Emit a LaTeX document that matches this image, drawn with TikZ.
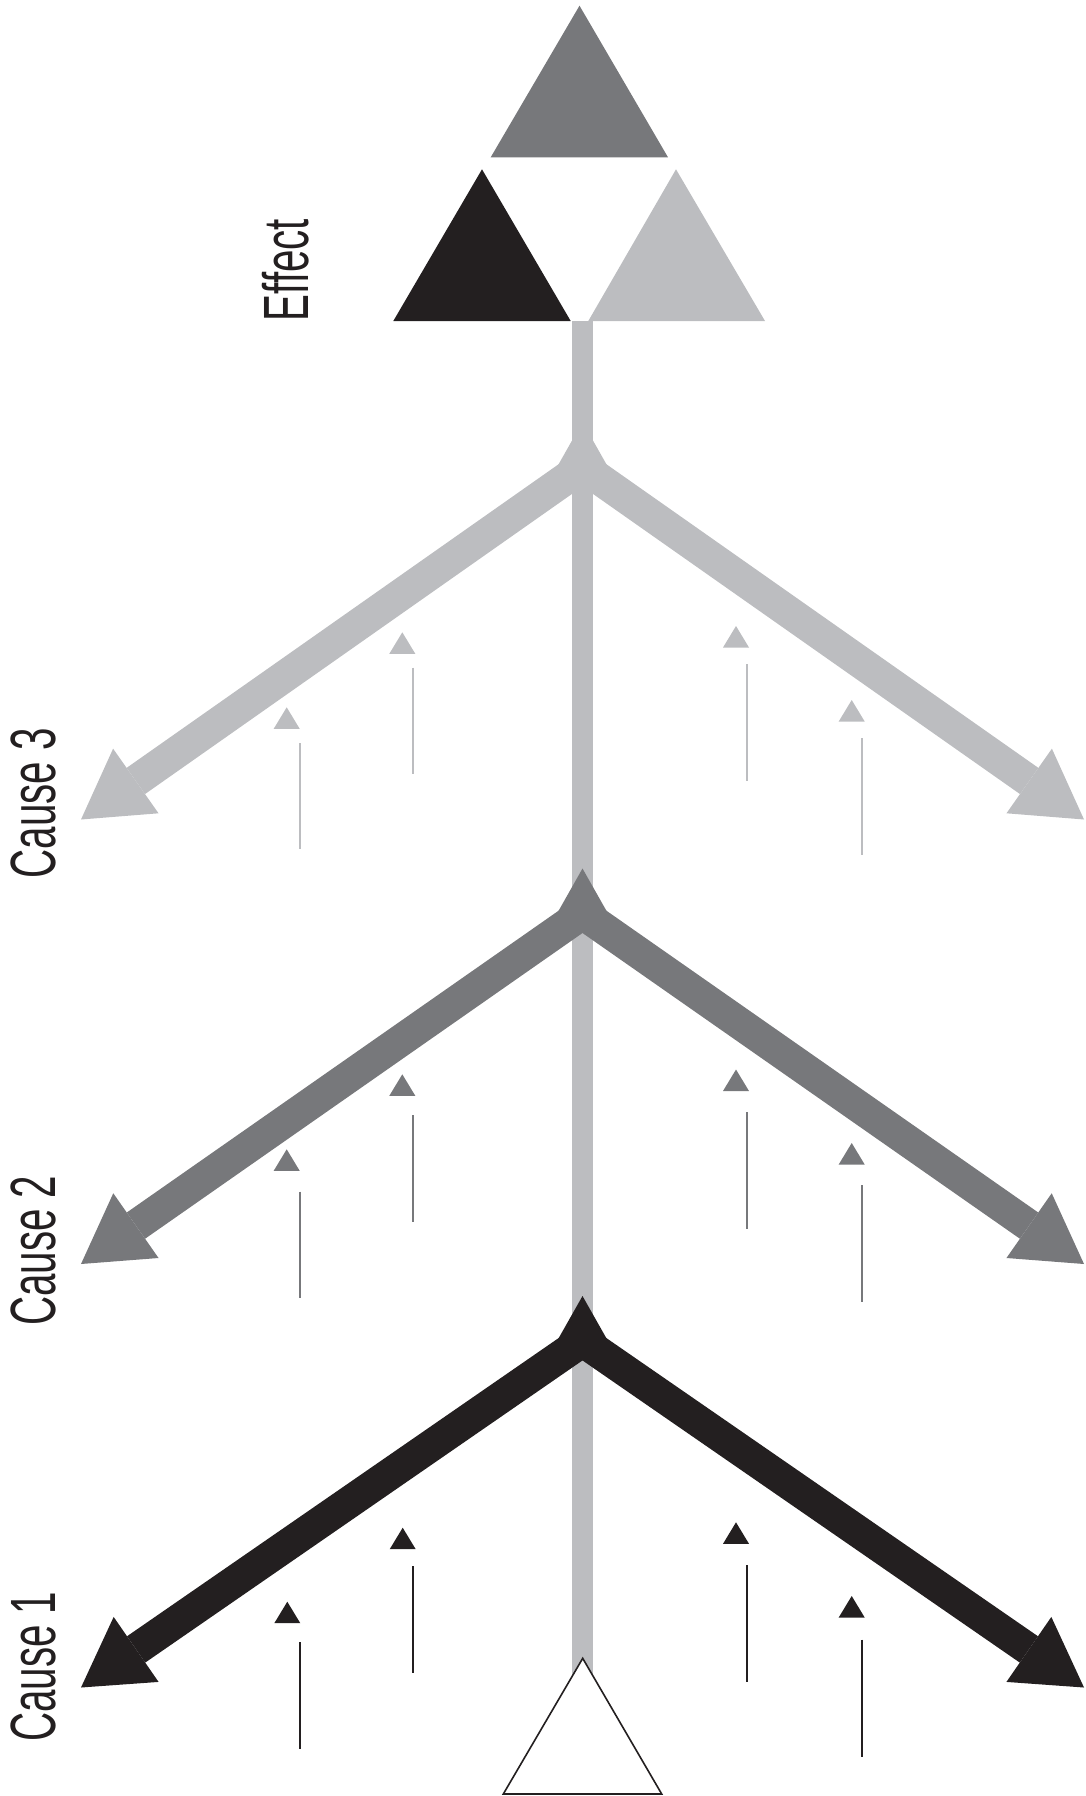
\documentclass[tikz,border=0pt]{standalone}
\usepackage{fontspec}
\usepackage{tikz}
\usetikzlibrary{arrows.meta}
\newfontfamily\labelfont[FakeStretch=0.63]{Liberation Sans}
\definecolor{causeblack}{HTML}{231F20}
\definecolor{causedark}{HTML}{77787B}
\definecolor{causelight}{HTML}{BCBDC0}

\begin{document}
\begin{tikzpicture}[x=1pt,y=-1pt,
        chev/.style={line width=32pt,line join=miter,>={Triangle[length=67pt,width=79pt,line width=0pt]},<->},
        tick/.style={line width=2.2pt},
        lbl/.style={rotate=90,anchor=base west,inner sep=0pt,text=causeblack,font=\labelfont\fontsize{64}{64}\selectfont}]
        \useasboundingbox (0,0) rectangle (1085,1796);
        % trunk
        \coordinate (top) at (582.5,321);
        \coordinate (root) at (582.5,1690);
        \draw[causelight,line width=20.7pt] (top) -- (root);
        % causes
        \foreach \c/\vy/\ey/\col in {3/467/819.5/causelight,2/913.5/1264/causedark,1/1341/1687.5/causeblack} {
            \coordinate (v\c) at (582.5,\vy);
            \coordinate (l\c) at (81,\ey);
            \coordinate (r\c) at (1084,\ey);
            \draw[chev,\col] (l\c) -- (v\c) -- (r\c);
            \fill[\col] (v\c) ++(0,-45) -- ++(-30,53) -- ++(60,0) -- cycle;
        }
        % small arrows
        \foreach \tx/\ty/\lx/\la/\lb/\col in {
            286.7/707.3/300/743.3/849.3/causelight, 402.3/632.3/412.7/667.7/774/causelight,
            736/626/747/664/781/causelight, 851.7/700/862.3/738.3/855.3/causelight,
            286.7/1149.3/300/1191.7/1297.7/causedark, 402.3/1074.3/412.7/1115.3/1222/causedark,
            736/1069.5/747/1112/1229/causedark, 851.7/1143/862.3/1185/1302/causedark,
            287.3/1601.7/300/1642.3/1748.7/causeblack, 402.7/1527.7/412.7/1566/1672.7/causeblack,
            736/1522.3/747/1565.3/1682/causeblack, 851.7/1596/862.3/1639.7/1756.7/causeblack} {
            \fill[\col] (\tx,\ty) -- ++(13,21.5) -- ++(-26,0) -- cycle;
            \draw[tick,\col] (\lx,\la) -- (\lx,\lb);
        }
        % effect
        \fill[causedark]  (579.5,5.7) -- (668,157.3) -- (490.7,157.3) -- cycle;
        \fill[causeblack] (482,169.3) -- (570.7,321) -- (393.3,321) -- cycle;
        \fill[causelight] (676,169.3) -- (765,321) -- (588.3,321) -- cycle;
        % start
        \draw[causeblack,fill=white,line width=1.6pt,line join=miter] (582.7,1658.3) -- (661.7,1794) -- (503.3,1794) -- cycle;
        % labels
        \node[lbl] (effect) at (308,321.5) {Effect};
        \node[lbl] (cause3) at (55,878.7) {Cause 3};
        \node[lbl] (cause2) at (55,1326) {Cause 2};
        \node[lbl] (cause1) at (55,1742) {Cause 1};
\end{tikzpicture}
\end{document}
